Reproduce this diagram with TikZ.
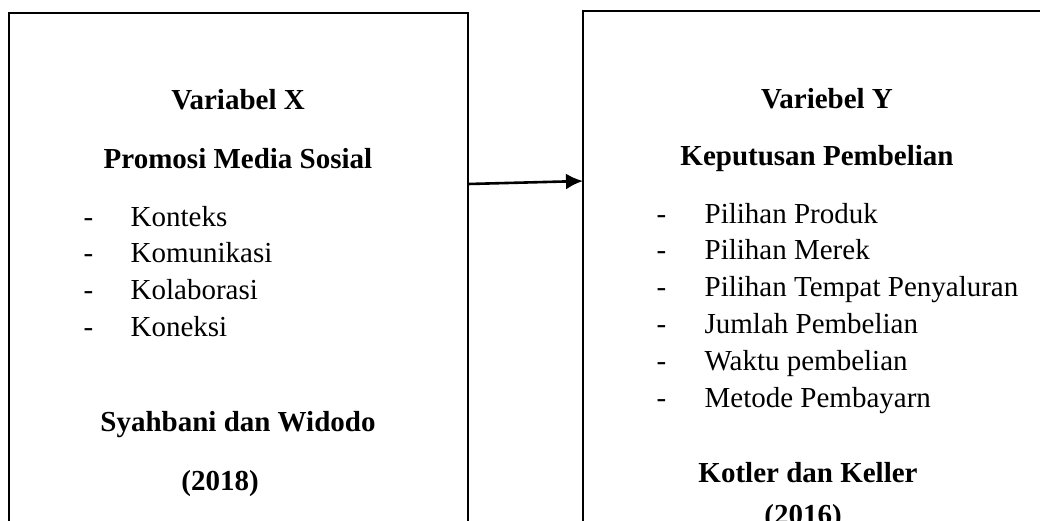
\documentclass[tikz,border=0pt]{standalone}
\usepackage{fontspec}
\setmainfont{Liberation Serif}
\usetikzlibrary{arrows.meta}
\begin{document}
\begin{tikzpicture}[x=1pt, y=-1pt, line width=2.6pt,
   varbox/.style={draw, rectangle, anchor=north west, inner sep=0pt, outer sep=0pt},
   txt/.style={anchor=base, font=\fontsize{29}{34}\selectfont},
   head/.style={anchor=base, font=\fontsize{29}{34}\selectfont\bfseries},
   item/.style={anchor=base west, font=\fontsize{29}{34}\selectfont}]
   \useasboundingbox (0,0) rectangle (1040,520);
   % the two boxes run on below the page
   \node (boxX) [varbox, minimum width=459pt, minimum height=560pt] at (9,13) {};
   \node (boxY) [varbox, minimum width=480pt, minimum height=560pt] at (583,11) {};
   \coordinate (src) at ([yshift=-171pt]boxX.north east);
   \coordinate (dst) at ([yshift=-170pt]boxY.north west);
   \draw [line width=2.6pt, -{Latex[length=17pt, width=16pt]}] (src) -- (dst);
   % variabel X
   \node (hx1) [head] at (238,109) {Variabel X};
   \node (hx2) [head] at (238,168) {Promosi Media Sosial};
   \foreach \t [count=\i] in {Konteks, Komunikasi, Kolaborasi, Koneksi} {
      \node (dx\i) [item] at (79, 226+36.7*\i-36.7) {-};
      \node (x\i) [item] at (126, 226+36.7*\i-36.7) {\t};
   }
   \node (srcx) [head] at (238,431) {Syahbani dan Widodo};
   \node (yrx) [head] at (220,490) {(2018)};
   % variabel Y
   \node (hy1) [head] at (827,108) {Variebel Y};
   \node (hy2) [head] at (817,165) {Keputusan Pembelian};
   \foreach \t [count=\i] in {Pilihan Produk, Pilihan Merek, Pilihan Tempat Penyaluran,
         Jumlah Pembelian, Waktu pembelian, Metode Pembayarn} {
      \node (dy\i) [item] at (652, 223+36.8*\i-36.8) {-};
      \node (y\i) [item] at (700, 223+36.8*\i-36.8) {\t};
   }
   \node (srcy) [head] at (808,482) {Kotler dan Keller};
   \node (yry) [head] at (803,524) {(2016)};
\end{tikzpicture}
\end{document}
